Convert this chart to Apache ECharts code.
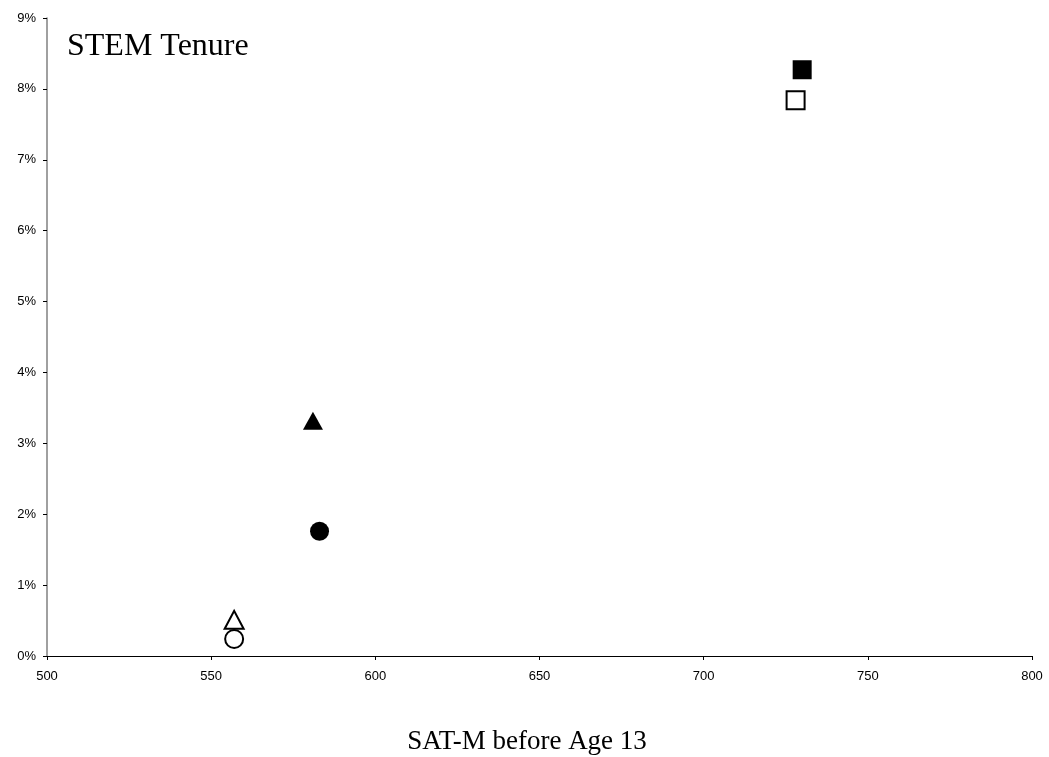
<!DOCTYPE html>
<html>
<head>
<meta charset="utf-8">
<script src="https://cdn.jsdelivr.net/npm/echarts@6/dist/echarts.min.js"></script>
<style>html,body{margin:0;padding:0;background:#fff}#c{width:1049px;height:757px}</style>
</head>
<body>
<div id="c"></div>
<script>
// Data
const pointNames = ['Group A (square, filled)', 'Group B (square, open)', 'Group C (triangle, filled)', 'Group D (circle, filled)', 'Group E (triangle, open)', 'Group F (circle, open)'];
const satM = [730, 728, 581, 583, 557, 557];
const tenurePct = [8.27, 7.84, 3.32, 1.76, 0.51, 0.24];
const xTicks = [500, 550, 600, 650, 700, 750, 800];
const yTicksPct = [0, 1, 2, 3, 4, 5, 6, 7, 8, 9];

const styles = [
  {symbol: 'rect', size: 19, fill: '#000'},
  {symbol: 'rect', size: 18, fill: '#fff'},
  {symbol: 'triangle', size: [20, 18], fill: '#000'},
  {symbol: 'circle', size: 19, fill: '#000'},
  {symbol: 'triangle', size: [19, 18], fill: '#fff'},
  {symbol: 'circle', size: 18, fill: '#fff'}
];

const series = pointNames.map((n, i) => ({
  name: n,
  type: 'scatter',
  symbol: styles[i].symbol,
  symbolSize: styles[i].size,
  data: [[satM[i], tenurePct[i]]],
  itemStyle: {color: styles[i].fill, borderColor: '#000', borderWidth: styles[i].fill === '#fff' ? 2 : 0, opacity: 1},
  emphasis: {disabled: true}
}));

const chart = echarts.init(document.getElementById('c'), null, {renderer: 'canvas'});
chart.setOption({
  animation: false,
  backgroundColor: '#fff',
  title: [
    {text: 'STEM Tenure', left: 67, top: 31, padding: 0,
     textStyle: {fontFamily: 'Liberation Serif', fontSize: 32, fontWeight: 'normal', color: '#000'}},
    {text: 'SAT-M before Age 13', left: 527, top: 728, padding: 0, textAlign: 'center',
     textStyle: {fontFamily: 'Liberation Serif', fontSize: 27, fontWeight: 'normal', color: '#000'}}
  ],
  grid: {left: 47, right: 17, top: 18, bottom: 101, containLabel: false},
  xAxis: {
    type: 'value', min: xTicks[0], max: xTicks[xTicks.length - 1], interval: 50,
    axisLine: {show: true, lineStyle: {color: '#000', width: 1}},
    axisTick: {show: true, inside: false, length: 4, lineStyle: {color: '#000'}},
    axisLabel: {margin: 14, color: '#000', fontFamily: 'Liberation Sans', fontSize: 13},
    splitLine: {show: false}
  },
  yAxis: {
    type: 'value', min: yTicksPct[0], max: yTicksPct[yTicksPct.length - 1], interval: 1,
    axisLine: {show: true, lineStyle: {color: '#808080', width: 1.5}},
    axisTick: {show: true, inside: false, length: 4, lineStyle: {color: '#000'}},
    axisLabel: {margin: 11, color: '#000', fontFamily: 'Liberation Sans', fontSize: 13, formatter: '{value}%'},
    splitLine: {show: false}
  },
  series: series
});
</script>
</body>
</html>
